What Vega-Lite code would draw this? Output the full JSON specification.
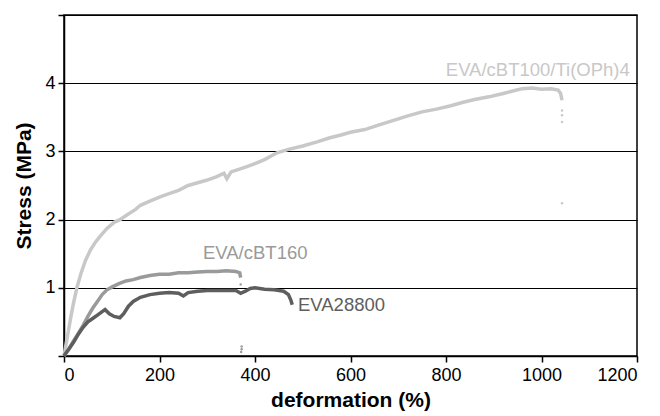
{
  "$schema": "https://vega.github.io/schema/vega-lite/v6.json",
  "width": 573,
  "height": 341,
  "autosize": {"type": "none"},
  "padding": {"left": 64, "top": 15, "right": 23, "bottom": 60},
  "config": {
    "font": "Liberation Sans",
    "view": {"stroke": "#000", "strokeWidth": 1.5},
    "axis": {
      "domainColor": "#000", "domainWidth": 1.5, "tickColor": "#000", "tickWidth": 1.5,
      "labelFont": "Liberation Sans", "labelFontSize": 18, "labelColor": "#000",
      "titleFont": "Liberation Sans", "titleFontSize": 21, "titleFontWeight": "bold", "titleColor": "#000"
    }
  },
  "datasets": {
    "curves": [
      {"s":"A","x":0,"y":0},{"s":"A","x":5,"y":0.2},{"s":"A","x":10,"y":0.4},{"s":"A","x":15,"y":0.6},{"s":"A","x":20,"y":0.78},{"s":"A","x":27,"y":1.0},{"s":"A","x":35,"y":1.2},{"s":"A","x":45,"y":1.4},{"s":"A","x":55,"y":1.55},{"s":"A","x":65,"y":1.66},{"s":"A","x":75,"y":1.75},{"s":"A","x":90,"y":1.87},{"s":"A","x":105,"y":1.96},{"s":"A","x":117,"y":2.0},{"s":"A","x":130,"y":2.06},{"s":"A","x":150,"y":2.15},{"s":"A","x":160,"y":2.21},{"s":"A","x":180,"y":2.27},{"s":"A","x":200,"y":2.33},{"s":"A","x":220,"y":2.38},{"s":"A","x":240,"y":2.43},{"s":"A","x":260,"y":2.5},{"s":"A","x":280,"y":2.54},{"s":"A","x":300,"y":2.58},{"s":"A","x":320,"y":2.63},{"s":"A","x":335,"y":2.68},{"s":"A","x":341,"y":2.6},{"s":"A","x":350,"y":2.7},{"s":"A","x":380,"y":2.77},{"s":"A","x":400,"y":2.82},{"s":"A","x":420,"y":2.88},{"s":"A","x":446,"y":2.98},{"s":"A","x":470,"y":3.03},{"s":"A","x":500,"y":3.08},{"s":"A","x":530,"y":3.14},{"s":"A","x":557,"y":3.2},{"s":"A","x":580,"y":3.24},{"s":"A","x":600,"y":3.28},{"s":"A","x":630,"y":3.32},{"s":"A","x":660,"y":3.39},{"s":"A","x":697,"y":3.47},{"s":"A","x":720,"y":3.52},{"s":"A","x":750,"y":3.58},{"s":"A","x":780,"y":3.62},{"s":"A","x":810,"y":3.67},{"s":"A","x":836,"y":3.72},{"s":"A","x":860,"y":3.76},{"s":"A","x":890,"y":3.8},{"s":"A","x":920,"y":3.85},{"s":"A","x":948,"y":3.9},{"s":"A","x":960,"y":3.92},{"s":"A","x":980,"y":3.93},{"s":"A","x":1000,"y":3.91},{"s":"A","x":1020,"y":3.92},{"s":"A","x":1035,"y":3.9},{"s":"A","x":1040,"y":3.85},{"s":"A","x":1043,"y":3.75},
      {"s":"B","x":0,"y":0},{"s":"B","x":5,"y":0.05},{"s":"B","x":10,"y":0.1},{"s":"B","x":20,"y":0.22},{"s":"B","x":30,"y":0.33},{"s":"B","x":40,"y":0.45},{"s":"B","x":50,"y":0.58},{"s":"B","x":60,"y":0.7},{"s":"B","x":70,"y":0.8},{"s":"B","x":80,"y":0.9},{"s":"B","x":90,"y":0.97},{"s":"B","x":100,"y":1.01},{"s":"B","x":115,"y":1.06},{"s":"B","x":130,"y":1.1},{"s":"B","x":145,"y":1.12},{"s":"B","x":160,"y":1.15},{"s":"B","x":180,"y":1.18},{"s":"B","x":200,"y":1.2},{"s":"B","x":220,"y":1.2},{"s":"B","x":240,"y":1.22},{"s":"B","x":260,"y":1.22},{"s":"B","x":280,"y":1.23},{"s":"B","x":300,"y":1.24},{"s":"B","x":320,"y":1.24},{"s":"B","x":340,"y":1.25},{"s":"B","x":360,"y":1.24},{"s":"B","x":368,"y":1.22},{"s":"B","x":370,"y":1.15},
      {"s":"C","x":0,"y":0},{"s":"C","x":5,"y":0.05},{"s":"C","x":10,"y":0.1},{"s":"C","x":20,"y":0.2},{"s":"C","x":30,"y":0.32},{"s":"C","x":40,"y":0.42},{"s":"C","x":50,"y":0.5},{"s":"C","x":60,"y":0.55},{"s":"C","x":70,"y":0.6},{"s":"C","x":80,"y":0.65},{"s":"C","x":86,"y":0.68},{"s":"C","x":95,"y":0.62},{"s":"C","x":105,"y":0.58},{"s":"C","x":117,"y":0.56},{"s":"C","x":125,"y":0.62},{"s":"C","x":135,"y":0.73},{"s":"C","x":145,"y":0.8},{"s":"C","x":160,"y":0.86},{"s":"C","x":180,"y":0.9},{"s":"C","x":200,"y":0.92},{"s":"C","x":220,"y":0.93},{"s":"C","x":240,"y":0.92},{"s":"C","x":250,"y":0.88},{"s":"C","x":260,"y":0.93},{"s":"C","x":280,"y":0.95},{"s":"C","x":300,"y":0.96},{"s":"C","x":320,"y":0.96},{"s":"C","x":340,"y":0.96},{"s":"C","x":360,"y":0.96},{"s":"C","x":370,"y":0.92},{"s":"C","x":380,"y":0.95},{"s":"C","x":390,"y":0.99},{"s":"C","x":400,"y":1.0},{"s":"C","x":420,"y":0.98},{"s":"C","x":440,"y":0.97},{"s":"C","x":460,"y":0.95},{"s":"C","x":470,"y":0.9},{"s":"C","x":475,"y":0.82},{"s":"C","x":478,"y":0.75}
    ],
    "tails": [
      {"s":"A","x":1043,"y":3.6},{"s":"A","x":1043,"y":3.53},{"s":"A","x":1043,"y":3.43},{"s":"A","x":1043,"y":2.24},
      {"s":"B","x":370,"y":1.05},{"s":"B","x":372,"y":0.14},{"s":"B","x":372,"y":0.1},{"s":"B","x":371,"y":0.06}
    ],
    "labelsRight": [
      {"s":"A","x":1185,"y":4.19,"t":"EVA/cBT100/Ti(OPh)4"}
    ],
    "labelsLeft": [
      {"s":"B","x":291,"y":1.51,"t":"EVA/cBT160"},
      {"s":"C","x":490,"y":0.75,"t":"EVA28800"}
    ]
  },
  "layer": [
    {
      "data": {"name": "curves"},
      "mark": {"type": "line", "strokeWidth": 3.5, "interpolate": "linear"},
      "encoding": {
        "x": {"field": "x", "type": "quantitative", "scale": {"domain": [0, 1200], "nice": false},
              "axis": {"values": [0,200,400,600,800,1000,1200], "format": "d", "title": "deformation (%)", "grid": false, "tickSize": 6, "labelPadding": 4, "titlePadding": 5}},
        "y": {"field": "y", "type": "quantitative", "scale": {"domain": [0, 5], "nice": false},
              "axis": {"values": [0,1,2,3,4,5], "format": "d", "labelExpr": "datum.value >= 1 && datum.value <= 4 ? datum.label : ''", "title": "Stress (MPa)", "grid": true, "gridColor": "#000", "gridOpacity": 1, "gridWidth": 1, "tickSize": 6, "labelPadding": 3, "titlePadding": 10}},
        "color": {"field": "s", "type": "nominal", "scale": {"domain": ["A","B","C"], "range": ["#c8c8c8","#9a9a9a","#5e5e5e"]}, "legend": null}
      }
    },
    {
      "data": {"name": "tails"},
      "mark": {"type": "circle", "size": 6, "opacity": 1},
      "encoding": {
        "x": {"field": "x", "type": "quantitative"},
        "y": {"field": "y", "type": "quantitative"},
        "color": {"field": "s", "type": "nominal", "legend": null}
      }
    },
    {
      "data": {"name": "labelsRight"},
      "mark": {"type": "text", "fontSize": 18.5, "font": "Liberation Sans", "baseline": "middle", "align": "right"},
      "encoding": {
        "x": {"field": "x", "type": "quantitative"},
        "y": {"field": "y", "type": "quantitative"},
        "text": {"field": "t"},
        "color": {"field": "s", "type": "nominal", "legend": null}
      }
    },
    {
      "data": {"name": "labelsLeft"},
      "mark": {"type": "text", "fontSize": 18.5, "font": "Liberation Sans", "baseline": "middle", "align": "left"},
      "encoding": {
        "x": {"field": "x", "type": "quantitative"},
        "y": {"field": "y", "type": "quantitative"},
        "text": {"field": "t"},
        "color": {"field": "s", "type": "nominal", "legend": null}
      }
    }
  ]
}
